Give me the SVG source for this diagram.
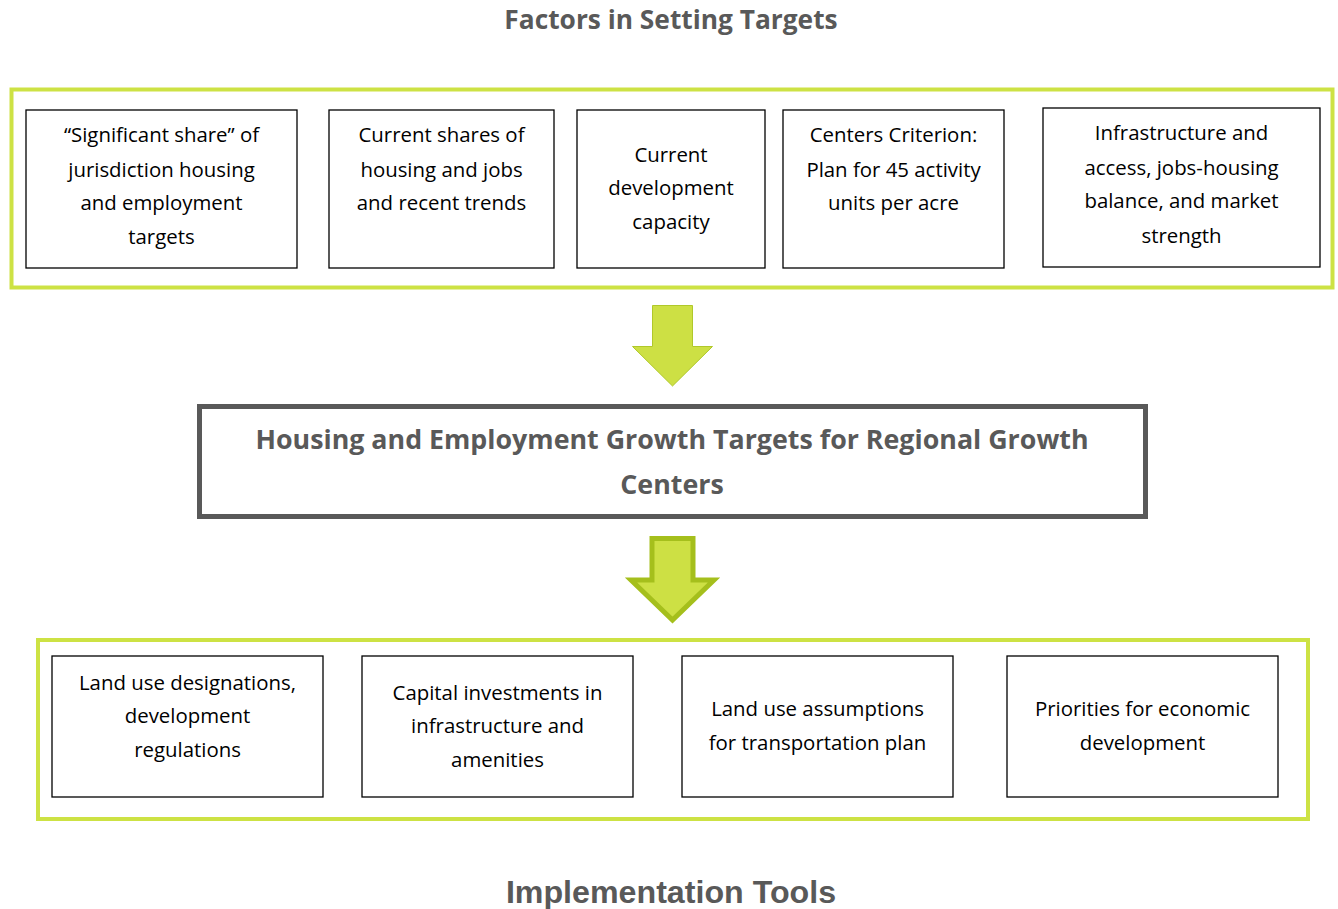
<svg xmlns="http://www.w3.org/2000/svg" width="1338" height="909" viewBox="0 0 1338 909">
  <style>
    .heading { font-family: "Open Sans", "Liberation Sans", sans-serif; font-weight: bold; fill: #595959; text-anchor: middle; }
    .group { fill: none; stroke: #cde244; stroke-width: 4; }
    .box { fill: #ffffff; stroke: #000000; stroke-width: 1.3; }
    .label { font-family: "Open Sans", "Liberation Sans", sans-serif; font-size: 20.4px; fill: #000000; text-anchor: middle; }
    .target { fill: #ffffff; stroke: #595959; stroke-width: 5; }
    .target-label { font-family: "Open Sans", "Liberation Sans", sans-serif; font-size: 26.8px; font-weight: bold; fill: #595959; text-anchor: middle; }
    .arrow { fill: #cde044; }
  </style>
  <rect width="1338" height="909" fill="#ffffff"/>

  <text class="heading" x="671" y="29" font-size="26.3">Factors in Setting Targets</text>

  <!-- Factors group -->
  <g id="factors-group">
    <rect class="group" x="11.5" y="89.5" width="1321" height="198"/>
  </g>
  <g id="factor-share">
    <rect class="box" x="26" y="110" width="271" height="158"/>
    <text class="label" x="161.5" y="142">“Significant share” of</text>
    <text class="label" x="161.5" y="177">jurisdiction housing</text>
    <text class="label" x="161.5" y="210">and employment</text>
    <text class="label" x="161.5" y="244">targets</text>
  </g>
  <g id="factor-current-shares">
    <rect class="box" x="329" y="110" width="225" height="158"/>
    <text class="label" x="441.5" y="142">Current shares of</text>
    <text class="label" x="441.5" y="177">housing and jobs</text>
    <text class="label" x="441.5" y="210">and recent trends</text>
  </g>
  <g id="factor-capacity">
    <rect class="box" x="577" y="110" width="188" height="158"/>
    <text class="label" x="671" y="162">Current</text>
    <text class="label" x="671" y="195">development</text>
    <text class="label" x="671" y="229">capacity</text>
  </g>
  <g id="factor-centers">
    <rect class="box" x="783" y="110" width="221" height="158"/>
    <text class="label" x="893.5" y="142">Centers Criterion:</text>
    <text class="label" x="893.5" y="177">Plan for 45 activity</text>
    <text class="label" x="893.5" y="210">units per acre</text>
  </g>
  <g id="factor-infrastructure">
    <rect class="box" x="1043" y="108" width="277" height="159"/>
    <text class="label" x="1181.5" y="140">Infrastructure and</text>
    <text class="label" x="1181.5" y="175">access, jobs-housing</text>
    <text class="label" x="1181.5" y="208">balance, and market</text>
    <text class="label" x="1181.5" y="243">strength</text>
  </g>

  <!-- Targets -->
  <g id="growth-targets">
    <rect class="target" x="199.5" y="406.5" width="946" height="110"/>
    <text class="target-label" x="672" y="449">Housing and Employment Growth Targets for Regional Growth</text>
    <text class="target-label" x="672" y="494">Centers</text>
  </g>

  <!-- Implementation group -->
  <g id="tools-group">
    <rect class="group" x="38" y="640" width="1270" height="179"/>
  </g>
  <g id="tool-land-use">
    <rect class="box" x="52" y="656" width="271" height="141"/>
    <text class="label" x="187.5" y="690">Land use designations,</text>
    <text class="label" x="187.5" y="723">development</text>
    <text class="label" x="187.5" y="757">regulations</text>
  </g>
  <g id="tool-capital">
    <rect class="box" x="362" y="656" width="271" height="141"/>
    <text class="label" x="497.5" y="700">Capital investments in</text>
    <text class="label" x="497.5" y="733">infrastructure and</text>
    <text class="label" x="497.5" y="767">amenities</text>
  </g>
  <g id="tool-transportation">
    <rect class="box" x="682" y="656" width="271" height="141"/>
    <text class="label" x="817.5" y="716">Land use assumptions</text>
    <text class="label" x="817.5" y="750">for transportation plan</text>
  </g>
  <g id="tool-economic">
    <rect class="box" x="1007" y="656" width="271" height="141"/>
    <text class="label" x="1142.5" y="716">Priorities for economic</text>
    <text class="label" x="1142.5" y="750">development</text>
  </g>

  <text class="heading" x="671" y="903" font-size="32.2" style="font-family: 'Liberation Sans', Arial, sans-serif;">Implementation Tools</text>

  <!-- Connectors -->
  <g id="connectors">
    <polygon class="arrow" points="652.5,305.5 692.5,305.5 692.5,346.5 712.5,346.5 672.5,386 632.5,346.5 652.5,346.5" stroke="#b0c82a" stroke-width="1"/>
    <polygon class="arrow" points="652,538.5 693,538.5 693,580 714,580 672.5,620 631,580 652,580" stroke="#a5bf1c" stroke-width="5" stroke-linejoin="miter"/>
  </g>
</svg>
